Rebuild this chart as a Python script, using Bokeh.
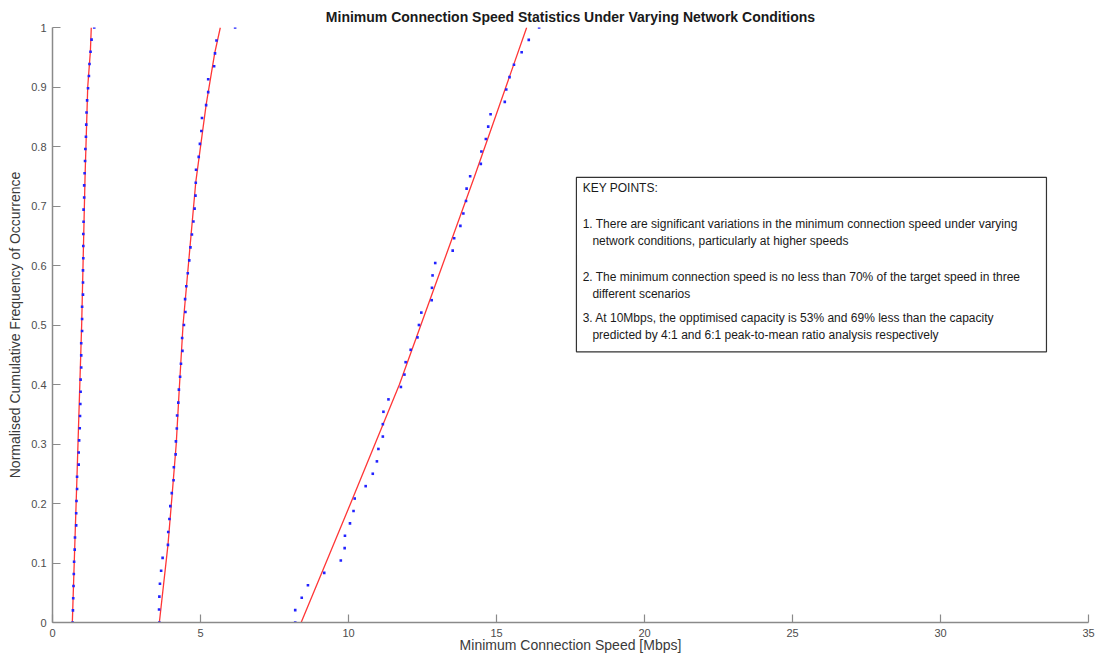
from bokeh.plotting import figure
from bokeh.models import FixedTicker, BoxAnnotation, Label, CustomJSTickFormatter, Range1d
from bokeh.embed import file_html
from bokeh.resources import INLINE

# ---- data ----
speed_low = [0.68, 0.69, 0.70, 0.71, 0.72, 0.73, 0.75, 0.76, 0.80, 0.80,
             0.81, 0.83, 0.83, 0.885, 0.885, 0.90, 0.92, 0.93, 0.94, 0.95,
             0.95, 0.97, 0.97, 0.97, 1.00, 1.00, 1.00, 1.03, 1.03, 1.03,
             1.04, 1.04, 1.04, 1.05, 1.05, 1.07, 1.07, 1.085, 1.10, 1.11,
             1.13, 1.14, 1.15, 1.17, 1.20, 1.23, 1.25, 1.285, 1.32, 1.41]
speed_mid = [3.61, 3.60, 3.61, 3.63, 3.67, 3.72, 3.90, 3.91, 3.95, 3.98,
             4.03, 4.09, 4.10, 4.16, 4.17, 4.20, 4.21, 4.25, 4.27, 4.31,
             4.34, 4.39, 4.38, 4.44, 4.49, 4.48, 4.52, 4.57, 4.62, 4.66,
             4.71, 4.76, 4.80, 4.83, 4.84, 4.85, 4.94, 4.98, 5.03, 5.05,
             5.19, 5.26, 5.26, 5.46, 5.49, 5.54, 6.17]
speed_high = [8.20, 8.20, 8.42, 8.63, 9.18, 9.74, 9.87, 9.88, 10.05, 10.17,
              10.21, 10.58, 10.82, 10.96, 11.01, 11.16, 11.16, 11.18, 11.35, 11.77,
              11.89, 11.93, 12.10, 12.33, 12.38, 12.46, 12.81, 12.82, 12.84, 12.93,
              13.52, 13.57, 13.78, 13.88, 13.97, 13.99, 14.11, 14.47, 14.49, 14.64,
              14.72, 14.80, 15.28, 15.33, 15.44, 15.59, 15.85, 16.09, 16.44]

fit_low_x = [0.67, 0.83, 0.985, 1.10, 1.19, 1.28, 1.31]
fit_low_y = [0.0, 0.25, 0.50, 0.75, 0.90, 0.96, 1.0]
fit_mid_x = [3.61, 3.90, 4.05, 4.18, 4.28, 4.41, 4.84, 5.19, 5.48, 5.67]
fit_mid_y = [0.0, 0.13, 0.22, 0.30, 0.39, 0.50, 0.74, 0.87, 0.957, 1.0]
fit_high_x = [8.40, 10.07, 11.72, 13.17, 14.26, 16.02]
fit_high_y = [0.0, 0.20, 0.40, 0.60, 0.75, 1.0]

x_ticks = [0, 5, 10, 15, 20, 25, 30, 35]
y_ticks = [0, 0.1, 0.2, 0.3, 0.4, 0.5, 0.6, 0.7, 0.8, 0.9, 1.0]

title_text = "Minimum Connection Speed Statistics Under Varying Network Conditions"
x_label = "Minimum Connection Speed [Mbps]"
y_label = "Normalised Cumulative Frequency of Occurrence"
note_lines = [
    "KEY POINTS:",
    "1. There are significant variations in the minimum connection speed under varying",
    "network conditions, particularly at higher speeds",
    "2. The minimum connection speed is no less than 70% of the target speed in three",
    "different scenarios",
    "3. At 10Mbps, the opptimised capacity is 53% and 69% less than the capacity",
    "predicted by 4:1 and 6:1 peak-to-mean ratio analysis respectively",
]


def ecdf(values):
    n = len(values)
    return [i / (n - 1) for i in range(n)]


FONT = "Liberation Sans"

p = figure(width=1096, height=655, output_backend="svg", toolbar_location=None,
           x_range=Range1d(0, 35), y_range=Range1d(0, 1),
           min_border_left=52, min_border_right=8, min_border_top=27, min_border_bottom=30,
           title=title_text)
p.title.text_font = FONT
p.title.text_font_size = "14px"
p.title.text_font_style = "bold"
p.title.text_color = "#1a1a1a"
p.title.align = "center"
p.title.standoff = 6

p.xgrid.visible = False
p.ygrid.visible = False
p.outline_line_color = None
p.background_fill_color = "white"
p.border_fill_color = "white"

fmt = CustomJSTickFormatter(code="return Number(tick.toFixed(2)).toString();")
p.xaxis.ticker = FixedTicker(ticks=x_ticks)
p.yaxis.ticker = FixedTicker(ticks=y_ticks)
p.xaxis.formatter = fmt
p.yaxis.formatter = fmt
p.xaxis.axis_label = x_label
p.yaxis.axis_label = y_label
for ax in (p.xaxis[0], p.yaxis[0]):
    ax.major_tick_in = 8
    ax.major_tick_out = 0
    ax.minor_tick_line_color = None
    ax.axis_line_color = "#8a8a8a"
    ax.axis_line_width = 1.5
    ax.major_tick_line_color = "#8a8a8a"
    ax.major_tick_line_width = 1.2
    ax.major_label_text_font = FONT
    ax.major_label_text_font_size = "11px"
    ax.major_label_text_color = "#4d4d4d"
    ax.axis_label_text_font = FONT
    ax.axis_label_text_font_size = "14px"
    ax.axis_label_text_font_style = "normal"
    ax.axis_label_text_color = "#3a3a3a"
p.xaxis.major_label_standoff = 6
p.yaxis.major_label_standoff = 6
p.xaxis.axis_label_standoff = -3
p.yaxis.axis_label_standoff = 5

for xs, ys in ((fit_low_x, fit_low_y), (fit_mid_x, fit_mid_y), (fit_high_x, fit_high_y)):
    p.line(xs, ys, line_color="#ff2020", line_width=1.3, line_alpha=0.9)

for vals in (speed_low, speed_mid, speed_high):
    p.scatter(vals, ecdf(vals), marker="square", size=2.6, fill_color="#2222ff",
              line_color=None)

# key points box
box = BoxAnnotation(left=17.70, right=33.58, bottom=0.455, top=0.748,
                    fill_color="white", fill_alpha=1.0, line_color="#333333",
                    line_width=1.2, line_alpha=1.0)
p.add_layout(box)

note_x = [17.91, 17.91, 18.24, 17.91, 18.24, 17.91, 18.24]
note_y = [0.730, 0.669, 0.641, 0.581, 0.552, 0.512, 0.483]
for t, x, y in zip(note_lines, note_x, note_y):
    p.add_layout(Label(x=x, y=y, text=t, text_font=FONT, text_font_size="12px",
                       text_color="#1a1a1a", text_baseline="middle", text_align="left"))

open("out.html", "w").write(file_html(p, INLINE))
